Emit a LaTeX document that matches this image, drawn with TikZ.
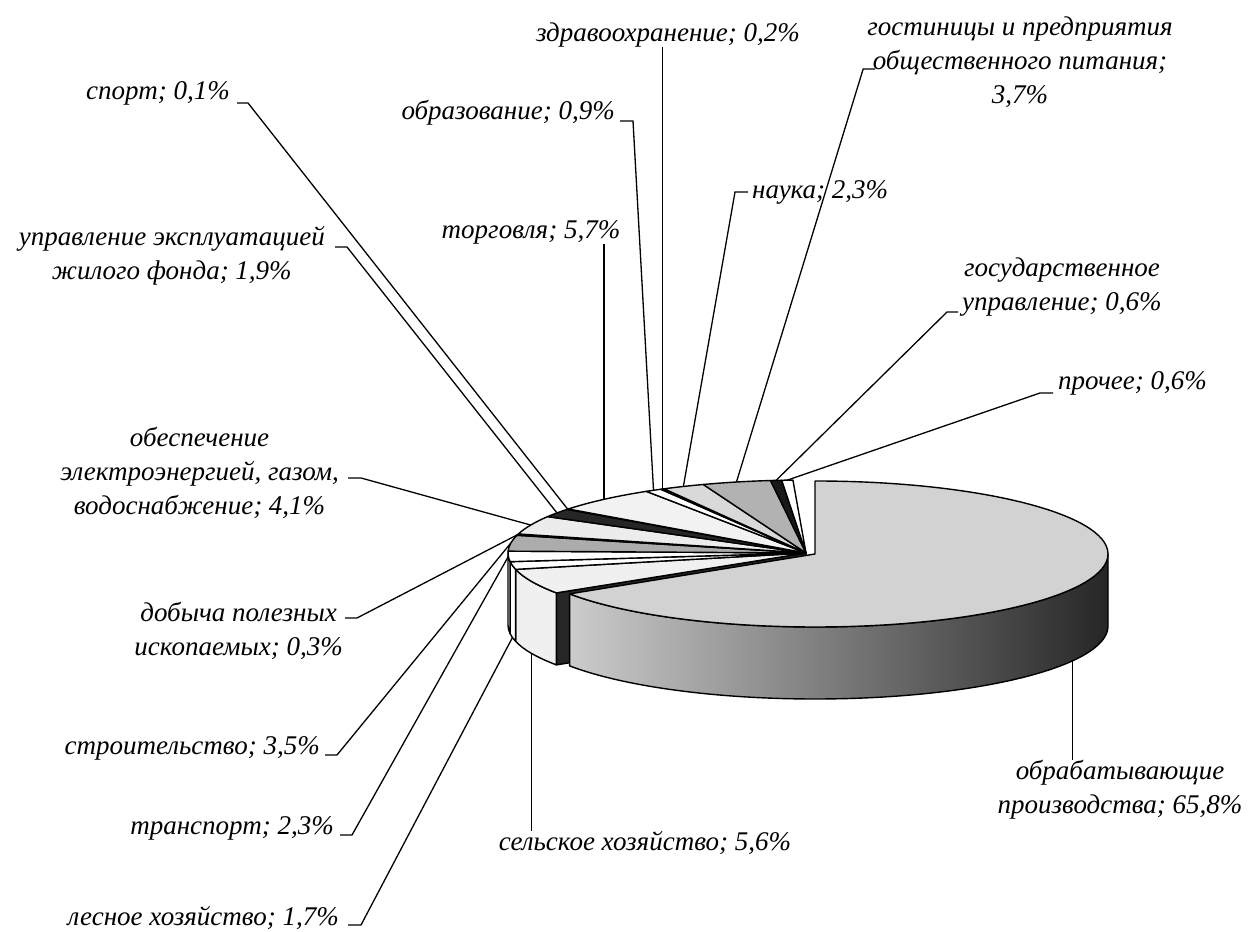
\documentclass[tikz,border=0pt]{standalone}
\usepackage{fontspec}
\setmainfont{Liberation Serif}
\usepackage{tikz}
\usetikzlibrary{calc}

\tikzset{
  slice/.style={draw=black,line width=1.4pt,line join=round},
  pierim/.style={x radius=298,y radius=73},
  bigrim/.style={x radius=293,y radius=73},
  leader/.style={draw=black,line width=1.3pt},
  lbl/.style={font=\itshape\fontsize{27}{34}\selectfont,align=center,inner sep=0pt}
}

\begin{document}
\begin{tikzpicture}[x=1pt,y=1pt]
\useasboundingbox (0,0) rectangle (1257,931);

% centres of the pie and of the pulled-out slice
\coordinate (C) at (806,378);
\coordinate (B) at (815,377);

% radial face and side walls on the left
\draw[slice,fill=black!85] (C) -- ++(213.12:298 and 73) -- ++(0,-72) -- ($(C)+(0,-72)$) -- cycle;
\draw[slice,fill=gray!12] (C) ++(213.12:298 and 73) arc[pierim,start angle=213.12,end angle=192.96] -- ++(0,-72) arc[pierim,start angle=192.96,end angle=213.12] -- cycle;
\draw[slice,fill=white] (C) ++(192.96:298 and 73) arc[pierim,start angle=192.96,end angle=186.84] -- ++(0,-72) arc[pierim,start angle=186.84,end angle=192.96] -- cycle;
\draw[slice,fill=white] (C) ++(186.84:298 and 73) arc[pierim,start angle=186.84,end angle=180] -- ++(0,-72) arc[pierim,start angle=180,end angle=186.84] -- cycle;

% top faces of the small slices
\draw[slice,fill=gray!12] (C) -- ++(213.12:298 and 73) arc[pierim,start angle=213.12,end angle=192.96] -- cycle;
\draw[slice,fill=white] (C) -- ++(192.96:298 and 73) arc[pierim,start angle=192.96,end angle=186.84] -- cycle;
\draw[slice,fill=white] (C) -- ++(186.84:298 and 73) arc[pierim,start angle=186.84,end angle=178.56] -- cycle;
\draw[slice,fill=gray!65] (C) -- ++(178.56:298 and 73) arc[pierim,start angle=178.56,end angle=165.96] -- cycle;
\draw[slice,fill=black!80] (C) -- ++(165.96:298 and 73) arc[pierim,start angle=165.96,end angle=164.88] -- cycle;
\draw[slice,fill=gray!15] (C) -- ++(164.88:298 and 73) arc[pierim,start angle=164.88,end angle=150.12] -- cycle;
\draw[slice,fill=black!85] (C) -- ++(150.12:298 and 73) arc[pierim,start angle=150.12,end angle=143.28] -- cycle;
\draw[slice,fill=white] (C) -- ++(143.28:298 and 73) arc[pierim,start angle=143.28,end angle=142.92] -- cycle;
\draw[slice,fill=gray!10] (C) -- ++(142.92:298 and 73) arc[pierim,start angle=142.92,end angle=122.40] -- cycle;
\draw[slice,fill=white] (C) -- ++(122.40:298 and 73) arc[pierim,start angle=122.40,end angle=119.16] -- cycle;
\draw[slice,fill=white] (C) -- ++(119.16:298 and 73) arc[pierim,start angle=119.16,end angle=118.44] -- cycle;
\draw[slice,fill=gray!30] (C) -- ++(118.44:298 and 73) arc[pierim,start angle=118.44,end angle=110.16] -- cycle;
\draw[slice,fill=gray!60] (C) -- ++(110.16:298 and 73) arc[pierim,start angle=110.16,end angle=96.84] -- cycle;
\draw[slice,fill=black!90] (C) -- ++(96.84:298 and 73) arc[pierim,start angle=96.84,end angle=94.68] -- cycle;
\draw[slice,fill=white] (C) -- ++(94.68:298 and 73) arc[pierim,start angle=94.68,end angle=92.52] -- cycle;

% big slice: side wall and top
\draw[slice,left color=gray!40,right color=black!85] (B) ++(213.12:293 and 73) arc[bigrim,start angle=213.12,end angle=360] -- ++(0,-72) arc[bigrim,start angle=360,end angle=213.12] -- cycle;
\draw[slice,fill=gray!35] (B) -- ++(90:293 and 73) arc[bigrim,start angle=90,end angle=-146.88] -- cycle;

% points where the leaders meet the slices
\coordinate (m1) at ($(B)+(-28.44:293 and 73)+(0,-72)$);
\coordinate (m2) at ($(C)+(203.04:298 and 73)+(0,-72)$);
\coordinate (m3) at ($(C)+(189.9:298 and 73)+(0,-72)$);
\coordinate (m4) at ($(C)+(182.7:298 and 73)$);
\coordinate (m5) at ($(C)+(172.26:298 and 73)$);
\coordinate (m6) at ($(C)+(165.42:298 and 73)$);
\coordinate (m7) at ($(C)+(157.5:298 and 73)$);
\coordinate (m8) at ($(C)+(146.7:298 and 73)$);
\coordinate (m9) at ($(C)+(143.1:298 and 73)$);
\coordinate (m10) at ($(C)+(132.66:298 and 73)$);
\coordinate (m11) at ($(C)+(120.78:298 and 73)$);
\coordinate (m12) at ($(C)+(118.8:298 and 73)$);
\coordinate (m13) at ($(C)+(114.3:298 and 73)$);
\coordinate (m14) at ($(C)+(103.5:298 and 73)$);
\coordinate (m15) at ($(C)+(95.76:298 and 73)$);
\coordinate (m16) at ($(C)+(93.6:298 and 73)$);

% labels on the right and below
\node[lbl] (obr) at (1120,141) {обрабатывающие\\производства; 65,8\%};
\draw[leader] (m1) -- (m1 |- obr.north);
\node[lbl] (sel) at (645,88) {сельское хозяйство; 5,6\%};
\draw[leader] (m2) -- (m2 |- sel.north);

% labels on the left
\node[lbl,anchor=east] (les) at (339,13) {лесное хозяйство; 1,7\%};
\draw[leader] (les.east) ++(9,-7) -- ++(13,0) -- (m3);
\node[lbl,anchor=east] (trans) at (334,103) {транспорт; 2,3\%};
\draw[leader] (trans.east) ++(6,-7) -- ++(12,0) -- (m4);
\node[lbl,anchor=east] (stroi) at (320,183) {строительство; 3,5\%};
\draw[leader] (stroi.east) ++(5,-7) -- ++(12,0) -- (m5);
\node[lbl,anchor=east] (dob) at (343,300) {добыча полезных\\ископаемых; 0,3\%};
\draw[leader] (dob.east) ++(2,13) -- ++(12,0) -- (m6);
\node[lbl,anchor=east] (obesp) at (339,458) {обеспечение\\электроэнергией, газом,\\водоснабжение; 4,1\%};
\draw[leader] (obesp.east) ++(9,-5) -- ++(13,0) -- (m7);
\node[lbl,anchor=east] (upr) at (325,675) {управление эксплуатацией\\жилого фонда; 1,9\%};
\draw[leader] (upr.east) ++(10,9) -- ++(12,0) -- (m8);
\node[lbl,anchor=east] (sport) at (230,838) {спорт; 0,1\%};
\draw[leader] (sport.east) ++(7,-10) -- ++(11,0) -- (m9);

% labels on top
\node[lbl] (torg) at (531,699) {торговля; 5,7\%};
\draw[leader] (m10) -- (m10 |- torg.south);
\node[lbl,anchor=east] (obraz) at (615,818) {образование; 0,9\%};
\draw[leader] (obraz.east) ++(5,-8) -- ++(13,0) -- (m11);
\node[lbl] (zdrav) at (668,896) {здравоохранение; 0,2\%};
\draw[leader] (m12) -- (m12 |- zdrav.south);
\node[lbl,anchor=west] (nauka) at (752,739) {наука; 2,3\%};
\draw[leader] (nauka.west) ++(-4,0) -- ++(-13,0) -- (m13);
\node[lbl] (gost) at (1020,869) {гостиницы и предприятия\\общественного питания;\\3,7\%};
\draw[leader] (gost.west) ++(8,-7) -- ++(-12,0) -- (m14);
\node[lbl,anchor=west] (gos) at (962,644) {государственное\\управление; 0,6\%};
\draw[leader] (gos.west) ++(-4,-25) -- ++(-11,0) -- (m15);
\node[lbl,anchor=west] (proch) at (1058,548) {прочее; 0,6\%};
\draw[leader] (proch.west) ++(-5,-10) -- ++(-13,0) -- (m16);
\end{tikzpicture}
\end{document}
